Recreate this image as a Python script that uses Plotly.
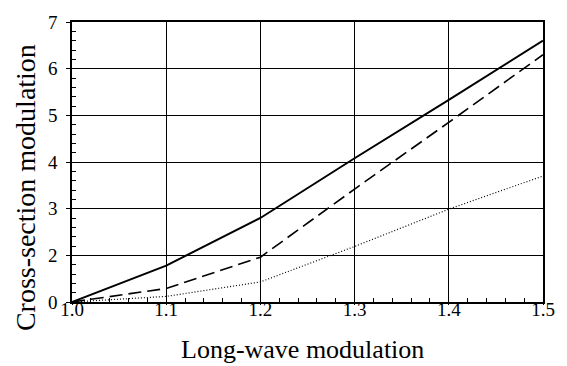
import plotly.graph_objects as go

# Data (y values in grid units; tick labels as printed on the original)
x_vals = [1.0, 1.1, 1.2, 1.3, 1.4, 1.5]
solid_vals = [0.0, 0.78, 1.80, 3.08, 4.33, 5.60]
dashed_vals = [0.0, 0.29, 0.96, 2.42, 3.85, 5.30]
dotted_vals = [0.0, 0.12, 0.43, 1.19, 1.99, 2.70]
y_label_alias = {"1": "2", "2": "3", "3": "4", "4": "5", "5": "6", "6": "7"}
x_label_alias = {"1": "1.0"}

FONT = "Liberation Serif"
X_RANGE = [1.0, 1.5]
Y_RANGE = [0, 6]

fig = go.Figure()
fig.add_trace(go.Scatter(x=x_vals, y=solid_vals, mode="lines",
                         line=dict(color="black", width=2), showlegend=False))
fig.add_trace(go.Scatter(x=x_vals, y=dashed_vals, mode="lines",
                         line=dict(color="black", width=1.6, dash="13px,6px"), showlegend=False))
# dotted series drawn on the overlay axes (identical ranges) that carry the fine ticks
fig.add_trace(go.Scatter(x=x_vals, y=dotted_vals, mode="lines", xaxis="x2", yaxis="y2",
                         line=dict(color="black", width=1.2, dash="1px,2px"), showlegend=False))

fig.update_layout(
    width=567, height=366,
    margin=dict(l=72, r=15, t=14, b=64),
    paper_bgcolor="white", plot_bgcolor="white",
    font=dict(family=FONT, color="black"),
    xaxis=dict(range=X_RANGE, dtick=0.1, labelalias=x_label_alias,
               showgrid=True, gridcolor="black", gridwidth=1,
               showline=True, linecolor="black", linewidth=1.5, mirror=True,
               ticks="outside", ticklen=1, tickcolor="black", tickwidth=1,
               ticklabelstandoff=-12,
               tickfont=dict(family=FONT, size=19, color="black"),
               zeroline=False, fixedrange=True),
    yaxis=dict(range=Y_RANGE, dtick=1, labelalias=y_label_alias,
               showgrid=True, gridcolor="black", gridwidth=1,
               showline=True, linecolor="black", linewidth=1.5, mirror=True,
               ticks="outside", ticklen=4, tickcolor="black", tickwidth=1,
               ticklabelstandoff=5,
               tickfont=dict(family=FONT, size=19, color="black"),
               zeroline=False, fixedrange=True),
    xaxis2=dict(range=X_RANGE, overlaying="x", anchor="y2", side="bottom",
                dtick=0.02, ticks="inside", ticklen=4, tickcolor="black", tickwidth=1,
                showticklabels=False, showgrid=False, showline=False, zeroline=False,
                fixedrange=True),
    yaxis2=dict(range=Y_RANGE, overlaying="y", anchor="x2", side="left",
                dtick=0.2, ticks="inside", ticklen=4, tickcolor="black", tickwidth=1,
                showticklabels=False, showgrid=False, showline=False, zeroline=False,
                fixedrange=True),
    annotations=[
        dict(text="Long-wave modulation", xref="paper", yref="paper",
             x=0.49, y=-0.17, xanchor="center", yanchor="middle", showarrow=False,
             font=dict(family=FONT, size=26, color="black")),
        dict(text="Cross-section modulation", xref="paper", yref="paper",
             x=-0.10, y=0.41, xanchor="center", yanchor="middle", showarrow=False,
             textangle=-90, font=dict(family=FONT, size=28, color="black")),
    ],
)

fig.write_html("out.html")
